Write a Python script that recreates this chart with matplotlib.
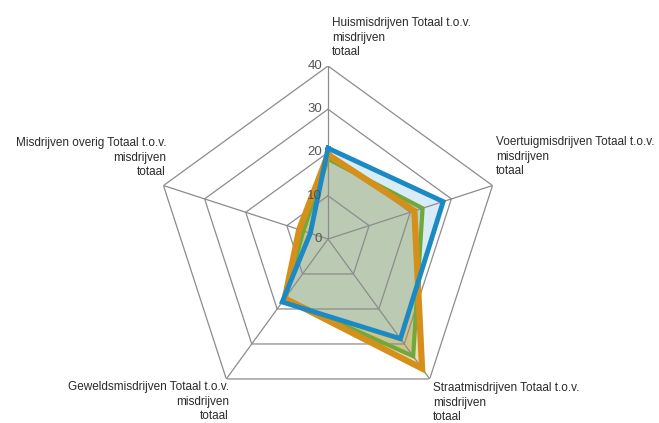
import numpy as np
import matplotlib
matplotlib.use("Agg")
import matplotlib.pyplot as plt
from matplotlib.transforms import offset_copy

plt.rcParams['font.family'] = ['Liberation Sans', 'DejaVu Sans']

# categorieen (klokwijs vanaf boven)
categorieen = [
    "Huismisdrijven Totaal t.o.v.\nmisdrijven\ntotaal",
    "Voertuigmisdrijven Totaal t.o.v.\nmisdrijven\ntotaal",
    "Straatmisdrijven Totaal t.o.v.\nmisdrijven\ntotaal",
    "Geweldsmisdrijven Totaal t.o.v.\nmisdrijven\ntotaal",
    "Misdrijven overig Totaal t.o.v.\nmisdrijven\ntotaal",
]
reeks_groen = [18.5, 23, 33.5, 17, 6]
reeks_oranje = [19.5, 21, 37, 17, 7]
reeks_blauw = [21, 28, 28.5, 18, 4.3]
ticks = [0, 10, 20, 30, 40]

W, H = 659, 423
fig = plt.figure(figsize=(W / 100, H / 100), dpi=100)
cx, cy, R = 328, 239, 173
ax = fig.add_axes([(cx - R) / W, (H - cy - R) / H, 2 * R / W, 2 * R / H],
                  projection='polar')
ax.set_theta_zero_location('N')
ax.set_theta_direction(-1)
ax.set_ylim(0, 40)
ax.grid(False)
ax.spines['polar'].set_visible(False)
ax.set_xticks([])
ax.set_yticks([])
ax.patch.set_alpha(0)

n = len(categorieen)
hoeken = np.linspace(0, 2 * np.pi, n, endpoint=False)
gesloten = np.append(hoeken, hoeken[0])

series = [
    (reeks_groen, '#6fa83c', '#7a9a48', 3),
    (reeks_oranje, '#d4901a', '#dcb050', 4.5),
    (reeks_blauw, '#1b8ac4', '#a0d4ee', 3.5),
]
for waarden, lijn, vul, lw in series:
    v = waarden + waarden[:1]
    ax.fill(gesloten, v, color=vul, alpha=0.42, zorder=1, lw=0)

# pentagon raster
for t in ticks[1:]:
    ax.plot(gesloten, [t] * (n + 1), color='#8c8c8c', lw=0.9, zorder=2)
for h in hoeken:
    ax.plot([h, h], [0, 40], color='#8c8c8c', lw=0.9, zorder=2)

for waarden, lijn, vul, lw in series:
    v = waarden + waarden[:1]
    ax.plot(gesloten, v, color=lijn, lw=lw, zorder=3, solid_joinstyle='miter')

tick_trans = offset_copy(ax.transData, fig=fig, x=-6, y=0, units='dots')
for t in ticks:
    ax.text(0, t, str(t), transform=tick_trans, ha='right', va='center',
            fontsize=9.5, color='#555555', zorder=4)

# labels in pixelposities
def px(x, y):
    return x / W, 1 - y / H

labelpos = [
    (332, 17, 'left'),
    (496, 136, 'left'),
    (433, 382, 'left'),
    (229, 381, 'right'),
    (166, 137, 'right'),
]
for tekst, (x, y, ha) in zip(categorieen, labelpos):
    fx, fy = px(x, y)
    fig.text(fx, fy, tekst, ha=ha, va='top', fontsize=8.5, color='#2a2a2a',
             multialignment=ha, linespacing=1.3)

fig.savefig('out.png', dpi=100)
